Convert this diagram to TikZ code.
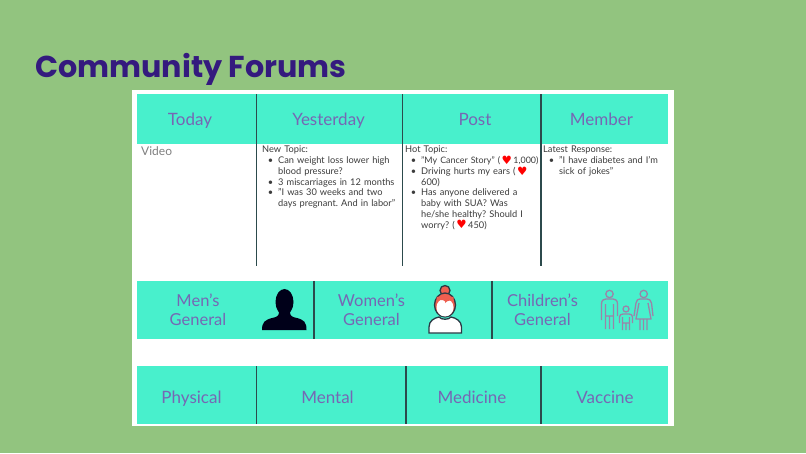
\documentclass[tikz,border=0pt]{standalone}
\usepackage{fontspec}
\usepackage{xcolor}
\usetikzlibrary{positioning}
\setmainfont{Lato}
\newfontfamily\titlefont{Poppins}
\newfontfamily\symbolfont{DejaVu Sans}
\definecolor{slidegreen}{HTML}{92C47F}
\definecolor{cellteal}{HTML}{48F0CC}
\definecolor{titleviolet}{HTML}{341A7E}
\definecolor{headviolet}{HTML}{7667B4}
\definecolor{ruledark}{HTML}{2C4A4C}
\definecolor{bodygrey}{HTML}{3C3C3C}
\definecolor{hairred}{HTML}{EE5F50}
\definecolor{outlinedark}{HTML}{2B3A45}
\definecolor{familymauve}{HTML}{9A84A8}
\newcommand{\hotheart}{\,\raisebox{-0.6pt}[0pt][0pt]{\color{red}\symbolfont\fontsize{11.5}{10}\selectfont ♥}\,}
\newenvironment{topiclist}{\begin{list}{\textbullet}{\setlength{\leftmargin}{16pt}\setlength{\labelwidth}{8pt}\setlength{\labelsep}{5pt}\setlength{\itemsep}{0pt}\setlength{\parsep}{0pt}\setlength{\topsep}{0pt}\setlength{\partopsep}{0pt}}}{\end{list}}
\begin{document}
\begin{tikzpicture}[x=1pt,y=1pt,node distance=0pt,
	cell/.style={fill=cellteal,inner sep=0pt,outer sep=0pt},
	headcell/.style={cell,minimum height=49.5pt},
	lowcell/.style={cell,minimum height=57.5pt},
	celllabel/.style={text=headviolet,align=center,inner sep=0pt,font=\fontsize{16.5}{19}\selectfont},
	headlabel/.style={celllabel,text height=12pt,text depth=3.5pt,font=\fontsize{17}{20}\selectfont},
	bodytext/.style={anchor=north west,inner sep=0pt,text=bodygrey,font=\fontsize{9.25}{10.75}\selectfont\frenchspacing},
	divider/.style={ruledark,line width=1.4pt}]
	\useasboundingbox (0,0) rectangle (806,453);
	\fill[slidegreen] (0,0) rectangle (806,453);
	\fill[white] (132,27) rectangle (674,363);
	\node[anchor=west,inner sep=0pt,text=titleviolet,font=\titlefont\bfseries\fontsize{30.2}{36}\selectfont] (title) at (35,383.5) {Community Forums};

	% top row
	\node[headcell,minimum width=119.5pt,anchor=north west] (today) at (137,358.5) {};
	\node[headcell,minimum width=146pt,right=of today] (yesterday) {};
	\node[headcell,minimum width=138.5pt,right=of yesterday] (post) {};
	\node[headcell,minimum width=127pt,right=of post] (member) {};
	\node[headlabel] (todaylabel) at (190,332) {Today};
	\node[headlabel] (yesterdaylabel) at (328.5,332) {Yesterday};
	\node[headlabel] (postlabel) at (475,332) {Post};
	\node[headlabel] (memberlabel) at (601.5,332) {Member};
	\coordinate[below=122pt of today.south east] (todayend);
	\coordinate[below=122pt of yesterday.south east] (yesterdayend);
	\coordinate[below=122pt of post.south east] (postend);
	\draw[divider] (today.north east) -- (todayend);
	\draw[divider] (yesterday.north east) -- (yesterdayend);
	\draw[divider] (post.north east) -- (postend);

	\node[bodytext,text=gray,font=\fontsize{12}{14}\selectfont] (video) at (141,306.5) {Video};
	\node[bodytext,text width=140pt] (newtopic) at (262,307) {New Topic:
		\begin{topiclist}
			\item Can weight loss lower high\\blood pressure?
			\item 3 miscarriages in 12 months
			\item "I was 30 weeks and two\\days pregnant. And in labor"
		\end{topiclist}};
	\node[bodytext,text width=140pt] (hottopic) at (405,307) {Hot Topic:
		\begin{topiclist}
			\item {\fontsize{8.9}{10.75}\selectfont "My Cancer Story" (\hotheart 1,000)}
			\item Driving hurts my ears (\hotheart\\600)
			\item Has anyone delivered a\\baby with SUA? Was\\he/she healthy? Should I\\worry? (\hotheart 450)
		\end{topiclist}};
	\node[bodytext,text width=124pt] (latest) at (543,307) {Latest Response:
		\begin{topiclist}
			\item "I have diabetes and I'm\\sick of jokes"
		\end{topiclist}};

	% middle row
	\node[lowcell,minimum width=177pt,anchor=north west] (men) at (137,172) {};
	\node[lowcell,minimum width=178pt,right=of men] (women) {};
	\node[lowcell,minimum width=176pt,right=of women] (children) {};
	\draw[divider] (men.north east) -- (men.south east);
	\draw[divider] (women.north east) -- (women.south east);
	\node[celllabel] (menlabel) at (198,143) {Men's\\General};
	\node[celllabel] (womenlabel) at (371.5,143) {Women's\\General};
	\node[celllabel] (childrenlabel) at (542.5,143) {Children's\\General};

	% man
	\fill[black!90!blue] (284.5,151) ellipse (9 and 13);
	\fill[black!90!blue] (262,123) .. controls (262,131) and (265,133) .. (272,135) .. controls (277,136) and (279,137) .. (279,141) -- (290,141) .. controls (290,137) and (292,136) .. (297,135) .. controls (304,133) and (306.5,131) .. (306.5,123) -- cycle;

	% woman
	\filldraw[fill=hairred,draw=outlinedark,line width=1.3pt] (445,162.5) circle (5);
	\filldraw[fill=white,draw=outlinedark,line width=1.3pt] (429,120) -- (429,126) .. controls (429,132) and (434,135) .. (439,136) .. controls (441,133) and (449,133) .. (451,136) .. controls (456,135) and (461.5,132) .. (461.5,126) -- (461.5,120) -- cycle;
	\filldraw[fill=hairred,draw=outlinedark,line width=1.3pt] (445,148) ellipse (10.5 and 12);
	\fill[white] (445,145.5) ellipse (8.5 and 9);
	\fill[hairred] (436.5,151) .. controls (441,155) and (447,152) .. (445,150) .. controls (448,153) and (451,153) .. (453.5,151) -- (453.5,156) -- (436.5,156) -- cycle;

	% family
	\draw[familymauve,line width=1.3pt,fill=none] (609.5,159) circle (3.7)
		(626,144) circle (3)
		(643.7,159) circle (3.7);
	\draw[familymauve,line width=1.3pt,line join=round] (601.5,133) -- (601.5,149) .. controls (601.5,153) and (604,154) .. (606,154) -- (613,154) .. controls (615,154) and (617.5,153) .. (617.5,149) -- (617.5,137)
		(605.5,133) -- (605.5,149) (613.5,133) -- (613.5,149)
		(605.5,137) -- (605.5,124) (613.5,137) -- (613.5,124) (609.5,137) -- (609.5,124) (605.5,137) -- (613.5,137);
	\draw[familymauve,line width=1.3pt,line join=round] (619.5,130) -- (619.5,136) .. controls (619.5,138) and (621,139) .. (623,139) -- (629,139) .. controls (631,139) and (632.5,138) .. (632.5,136) -- (632.5,130)
		(622.5,132) -- (622.5,123) (629.5,132) -- (629.5,123) (626,130) -- (626,123) (622.5,130) -- (629.5,130) (622.5,136) -- (622.5,130) (629.5,136) -- (629.5,130);
	\draw[familymauve,line width=1.3pt,line join=round] (634,137) -- (636,150) .. controls (636.5,153) and (638,154) .. (640,154) -- (647,154) .. controls (649,154) and (651,153) .. (651.5,150) -- (653,137)
		(639,150) -- (636,134) -- (651,134) -- (648,150)
		(640,134) -- (640,123) (647,134) -- (647,123) (643.5,134) -- (643.5,123);

	% bottom row
	\node[lowcell,minimum width=119.5pt,anchor=north west] (physical) at (137,87) {};
	\node[lowcell,minimum width=149.5pt,right=of physical] (mental) {};
	\node[lowcell,minimum width=135pt,right=of mental] (medicine) {};
	\node[lowcell,minimum width=127pt,right=of medicine] (vaccine) {};
	\draw[divider] (physical.north east) -- (physical.south east);
	\draw[divider] (mental.north east) -- (mental.south east);
	\draw[divider] (medicine.north east) -- (medicine.south east);
	\node[headlabel] (physicallabel) at (191.5,54) {Physical};
	\node[headlabel] (mentallabel) at (327.5,54) {Mental};
	\node[headlabel] (medicinelabel) at (472,54) {Medicine};
	\node[headlabel] (vaccinelabel) at (605,54) {Vaccine};
\end{tikzpicture}
\end{document}
